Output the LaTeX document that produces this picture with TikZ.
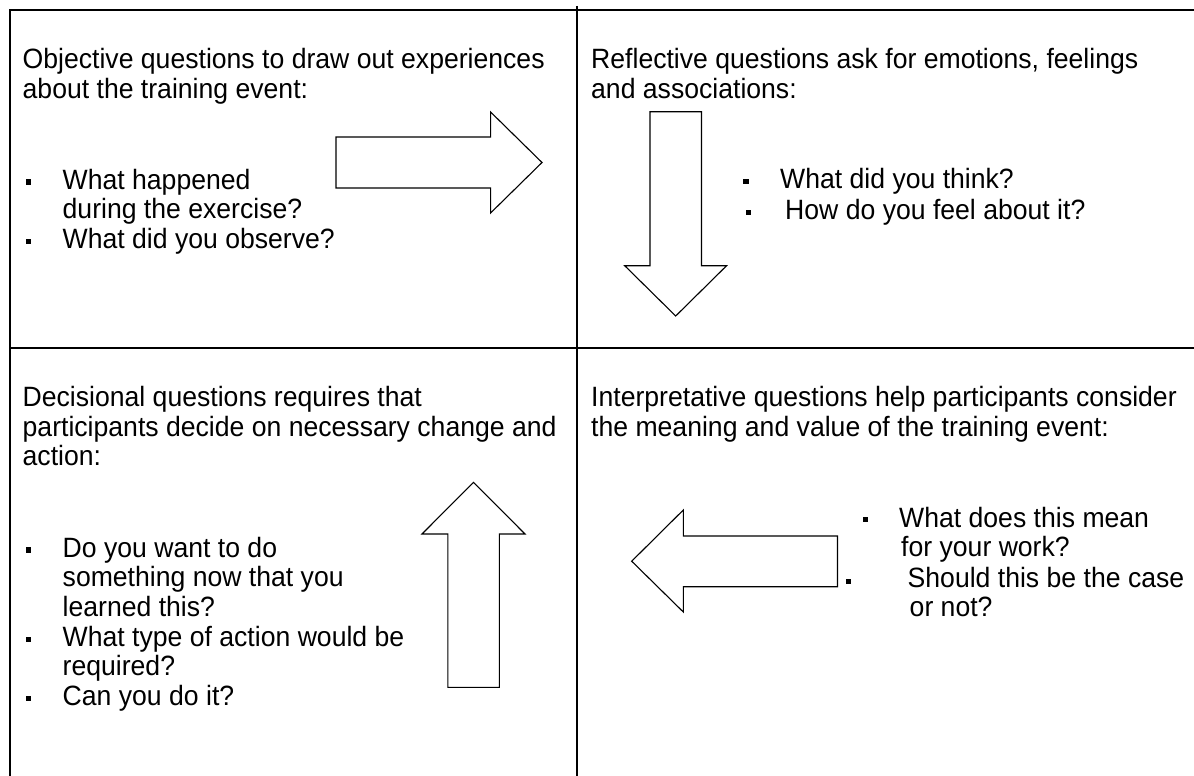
\documentclass[tikz,border=0pt]{standalone}
\usepackage{fontspec}
\setmainfont{Liberation Sans}
\begin{document}
\begin{tikzpicture}[x=1pt,y=-1pt,
  gridline/.style={line width=2pt},
  blockarrow/.style={draw, line width=1.1pt, line join=miter, fill=white},
  txt/.style={anchor=base west, inner sep=0pt, yscale=1.05, transform shape, font=\fontsize{26.6}{28.3}\selectfont},
  bul/.style={fill=black, inner sep=0pt, minimum width=5.5pt, minimum height=5.5pt}
]
\fill[white] (0,0) rectangle (1194,776);
\useasboundingbox (0,0) rectangle (1194,776);

% table lines
\draw[gridline] (10,776) -- (10,10) -- (1194,10);
\draw[gridline] (10,348) -- (1194,348);
\draw[gridline] (576.5,6) -- (576.5,776);

% top-left cell
\node[txt] (objhead) at (22.5,69) {\begin{tabular}[t]{@{}l@{}}Objective questions to draw out experiences\\about the training event:\end{tabular}};
\node[txt] (objlist) at (62.5,189) {\begin{tabular}[t]{@{}l@{}}What happened\\during the exercise?\\What did you observe?\end{tabular}};
\node[bul] (objb1) at (28.5,182.2) {};
\node[bul] (objb2) at (28.5,241.6) {};
\draw[blockarrow] (336,137) -- (490.6,137) -- (490.6,112) -- (542,162.5) -- (490.6,213) -- (490.6,188) -- (336,188) -- cycle;

% top-right cell
\node[txt] (refhead) at (591,69) {\begin{tabular}[t]{@{}l@{}}Reflective questions ask for emotions, feelings\\and associations:\end{tabular}};
\node[txt] (refq1) at (780,188.5) {What did you think?};
\node[txt] (refq2) at (785,219.5) {How do you feel about it?};
\node[bul] (refb1) at (745.8,181.5) {};
\node[bul] (refb2) at (748.5,212.5) {};
\draw[blockarrow] (650,111.7) -- (701.5,111.7) -- (701.5,265.7) -- (726.6,265.7) -- (675.7,316) -- (624.7,265.7) -- (650,265.7) -- cycle;

% bottom-left cell
\node[txt] (dechead) at (22.5,406.5) {\begin{tabular}[t]{@{}l@{}}Decisional questions requires that\\participants decide on necessary change and\\action:\end{tabular}};
\node[txt] (declist) at (62.5,557) {\begin{tabular}[t]{@{}l@{}}Do you want to do\\something now that you\\learned this?\\What type of action would be\\required?\\Can you do it?\end{tabular}};
\node[bul] (decb1) at (28.5,550.2) {};
\node[bul] (decb2) at (28.5,639.3) {};
\node[bul] (decb3) at (28.5,698.7) {};
\draw[blockarrow] (447.8,687.3) -- (447.8,534) -- (422,534) -- (473.5,482.3) -- (525,534) -- (499.4,534) -- (499.4,687.3) -- cycle;

% bottom-right cell
\node[txt] (inthead) at (591,406.5) {\begin{tabular}[t]{@{}l@{}}Interpretative questions help participants consider\\the meaning and value of the training event:\end{tabular}};
\node[txt] (intq1a) at (899,527) {What does this mean};
\node[txt] (intq1b) at (901,556) {for your work?};
\node[txt] (intq2a) at (907.5,587) {Should this be the case};
\node[txt] (intq2b) at (909.5,616.5) {or not?};
\node[bul] (intb1) at (865.5,519.7) {};
\node[bul] (intb2) at (848.7,581.3) {};
\draw[blockarrow] (837.5,536) -- (683.3,536) -- (683.3,510) -- (631.7,561.2) -- (683.3,612) -- (683.3,586.7) -- (837.5,586.7) -- cycle;
\end{tikzpicture}
\end{document}
